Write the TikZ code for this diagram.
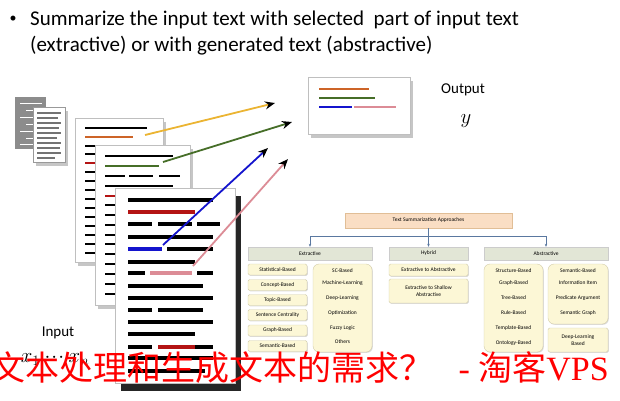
\documentclass[tikz,border=0pt]{standalone}
\usepackage{fontspec}
\setmainfont{Carlito}
\newfontfamily\cjkfont{Noto Sans CJK SC}
\newfontfamily\wmfont{Liberation Serif}
\usetikzlibrary{arrows.meta}
\usetikzlibrary{shadows}
\definecolor{barorange}{RGB}{205,100,40}
\definecolor{barred}{RGB}{180,20,20}
\definecolor{bargreen}{RGB}{70,110,40}
\definecolor{barblue}{RGB}{20,20,205}
\definecolor{barpink}{RGB}{220,140,150}
\definecolor{arryellow}{RGB}{235,180,50}
\definecolor{peach}{RGB}{250,222,196}
\definecolor{peachedge}{RGB}{225,190,150}
\definecolor{headgray}{RGB}{226,230,214}
\definecolor{leafcream}{RGB}{252,247,214}
\definecolor{leafedge}{RGB}{210,204,170}
\definecolor{linkblue}{RGB}{90,120,160}
\newcommand{\linek}[3]{\draw[bar] ( #1 , #3 ) -- ( #2 , #3 );}
\newcommand{\linec}[4]{\draw[bar, #4] ( #1 , #3 ) -- ( #2 , #3 );}
\tikzset{
  bar/.style={line width=2.8pt},
  page/.style={draw=black!25, fill=white, drop shadow={shadow xshift=3pt, shadow yshift=-4pt, opacity=.45}},
  frontpage/.style={draw=black!25, fill=white, drop shadow={shadow xshift=6pt, shadow yshift=-8pt, opacity=1, fill=black!85}},
  pick/.style={line width=1.8pt, -{Stealth[black, length=10pt, width=8pt]}},
  approach/.style={draw=peachedge, fill=peach, minimum width=167pt, minimum height=15pt, inner sep=0pt, font=\fontsize{5.5}{6.5}\selectfont},
  cathead/.style={draw=black!20, fill=headgray, minimum height=13pt, inner sep=0pt, font=\fontsize{5.5}{6.5}\selectfont, drop shadow={shadow xshift=.8pt, shadow yshift=-.8pt, opacity=.3}},
  leaf/.style={draw=leafedge, fill=leafcream, minimum width=59pt, minimum height=11pt, inner sep=0pt, rounded corners=1.5pt, align=center, font=\fontsize{5.5}{6.5}\selectfont, drop shadow={shadow xshift=.8pt, shadow yshift=-.8pt, opacity=.3}},
  group/.style={leaf, rounded corners=6pt},
  item/.style={inner sep=0pt, font=\fontsize{5.5}{6.5}\selectfont},
  treelink/.style={draw=linkblue, line width=.6pt, -{Stealth[length=3pt, width=2.5pt]}}
}
\begin{document}
\begin{tikzpicture}[x=1pt, y=-1pt]
        \useasboundingbox (0,0) rectangle (620,400);
        % heading
        \node (dot) at (13,19) {\fontsize{14}{16}\selectfont •};
        \node[anchor=base west, inner sep=0pt, font=\fontsize{21}{25}\selectfont] (title1) at (30,25) {Summarize the input text with selected \ part of input text};
        \node[anchor=base west, inner sep=0pt, font=\fontsize{21}{25}\selectfont] (title2) at (30,51) {(extractive) or with generated text (abstractive)};
        % small icon
        \draw[draw=black!45, fill=black!45] (15,97) rectangle (45,148);
        \draw[white, line width=1pt] (20,103) -- (42,103);
        \draw[white, line width=1pt] (26,110) -- (42,110);
        \draw[white, line width=1pt] (20,117) -- (42,117);
        \draw[white, line width=1pt] (26,124) -- (42,124);
        \draw[white, line width=1pt] (20,131) -- (42,131);
        \draw[white, line width=1pt] (26,138) -- (42,138);
        \draw[white, line width=1pt] (20,144) -- (42,144);
        \draw[page, draw=black!40] (33,107) rectangle (65,162);
        \draw[black!55, line width=1.1pt] (37,113) -- (61,113);
        \draw[black!55, line width=1.1pt] (37,118) -- (58,118);
        \draw[black!55, line width=1.1pt] (37,123) -- (61,123);
        \draw[black!55, line width=1.1pt] (37,128) -- (59,128);
        \draw[black!55, line width=1.1pt] (37,133) -- (61,133);
        \draw[black!55, line width=1.1pt] (37,138) -- (57,138);
        \draw[black!55, line width=1.1pt] (37,143) -- (61,143);
        \draw[black!55, line width=1.1pt] (37,148) -- (60,148);
        \draw[black!55, line width=1.1pt] (37,153) -- (61,153);
        \draw[black!55, line width=1.1pt] (37,158) -- (55,158);
        % page 1
        \draw[page] (75,118) rectangle (163,262);
        \linek{85}{147}{128}
        \linec{85}{133}{137}{barorange}
        \linek{85}{100}{146} \linek{106}{126}{146} \linek{132}{150}{146}
        \linek{85}{150}{154}
        \linec{85}{120}{163}{barred}
        \linek{85}{140}{172} \linek{85}{140}{181} \linek{85}{140}{190}
        \linek{85}{140}{199} \linek{85}{140}{208} \linek{85}{140}{217}
        \linek{85}{140}{226} \linek{85}{140}{235} \linek{85}{140}{244}
        \linek{85}{140}{253}
        % page 2
        \draw[page] (95,145) rectangle (190,305);
        \linek{105}{173}{156}
        \linec{105}{159}{166}{bargreen}
        \linek{105}{125}{176} \linek{129}{153}{176} \linek{159}{180}{176}
        \linek{105}{173}{186}
        \linec{105}{140}{196}{barred}
        \linek{105}{170}{205} \linek{105}{170}{215} \linek{105}{170}{225}
        \linek{105}{170}{235} \linek{105}{170}{244} \linek{105}{170}{254}
        \linek{105}{170}{264} \linek{105}{170}{274} \linek{105}{170}{284}
        \linek{105}{170}{294}
        % page 3
        \begin{scope}[bar/.style={line width=3.8pt}]
        \draw[frontpage] (115,188) rectangle (235,383);
        \linek{128}{213}{200}
        \linec{128}{195}{212}{barred}
        \linek{128}{152}{224} \linek{158}{192}{224} \linek{197}{220}{224}
        \linek{128}{213}{237}
        \linec{128}{162}{249}{barblue} \linek{167}{213}{249}
        \linek{128}{195}{262}
        \linek{128}{145}{273} \linec{150}{192}{273}{barpink} \linek{197}{213}{273}
        \linek{128}{203}{286}
        \linek{128}{213}{298}
        \linek{128}{152}{310} \linek{158}{203}{310}
        \linek{128}{213}{322}
        \linek{128}{195}{334}
        \linek{128}{152}{347} \linec{158}{195}{347}{barred} \linek{195}{213}{347}
        \linek{128}{213}{358}
        \linek{128}{205}{371}
        \end{scope}
        % output
        \node[page, minimum width=102pt, minimum height=57pt, inner sep=0pt] (outbox) at (359,105.5) {};
        \linec{319}{369}{89}{barorange}
        \linec{319}{375}{98}{bargreen}
        \linec{319}{352}{107}{barblue}
        \linec{354}{396}{107}{barpink}
        \node[font=\fontsize{15}{18}\selectfont] (outlbl) at (463,90) {Output};
        \node[font=\fontsize{20}{24}\selectfont] (outy) at (466,121) {$y$};
        % input
        \node[font=\fontsize{15}{18}\selectfont] (inlbl) at (58,333) {Input};
        \node[font=\fontsize{21}{24}\selectfont] (inx) at (55,359) {$x_1\cdot\!\cdot\!\cdot x_n$};
        % arrows
        \coordinate (ys) at (145,135); \coordinate (ye) at (275,103);
        \coordinate (gs) at (163,162); \coordinate (ge) at (292,122);
        \coordinate (bs) at (163,245); \coordinate (be) at (268,148);
        \coordinate (ps) at (193,266); \coordinate (pe) at (288,159);
        \draw[pick, arryellow] (ys) -- (ye);
        \draw[pick, bargreen] (gs) -- (ge);
        \draw[pick, barblue] (bs) -- (be);
        \draw[pick, barpink] (ps) -- (pe);
        % tree
        \node[approach] (root) at (428.5,220.5) {Text Summarization Approaches};
        \node[cathead, minimum width=124pt] (exthd) at (310,253.5) {Extractive};
        \node[cathead, minimum width=79pt] (hybhd) at (428.5,253.5) {Hybrid};
        \node[cathead, minimum width=124pt] (abshd) at (546,253.5) {Abstractive};
        \coordinate (hub) at (428.5,236);
        \draw[treelink] (root.south) -- (hybhd.north);
        \draw[treelink] (hub) -| (exthd.north);
        \draw[treelink] (hub) -| (abshd.north);
        % extractive
        \node[leaf] (stat) at (277.5,269.5) {Statistical-Based};
        \node[leaf] (concept) at (277.5,285) {Concept-Based};
        \node[leaf] (topic) at (277.5,300) {Topic-Based};
        \node[leaf] (centr) at (277.5,315) {Sentence Centrality};
        \node[leaf] (graph) at (277.5,330.5) {Graph-Based};
        \node[leaf] (sem) at (277.5,346) {Semantic-Based};
        \node[group, minimum height=88pt] (extgrp) at (342.5,308) {};
        \node[item] (sc) at (342.5,271) {SC-Based};
        \node[item] (ml) at (342.5,283) {Machine-Learning};
        \node[item] (dl) at (342.5,298) {Deep-Learning};
        \node[item] (opt) at (342.5,313) {Optimization};
        \node[item] (fuzzy) at (342.5,328) {Fuzzy Logic};
        \node[item] (others) at (342.5,342) {Others};
        % hybrid
        \node[leaf, minimum width=79pt, minimum height=12pt] (e2a) at (428.5,270) {Extractive to Abstractive};
        \node[leaf, minimum width=79pt, minimum height=24pt] (e2s) at (428.5,291) {Extractive to Shallow\\Abstractive};
        % abstractive
        \node[group, minimum height=88pt] (absgrp) at (513.5,308) {};
        \node[item] (struct) at (513.5,271) {Structure-Based};
        \node[item] (agraph) at (513.5,283) {Graph-Based};
        \node[item] (tree) at (513.5,298) {Tree-Based};
        \node[item] (rule) at (513.5,313) {Rule-Based};
        \node[item] (templ) at (513.5,328) {Template-Based};
        \node[item] (onto) at (513.5,343) {Ontology-Based};
        \node[group, minimum width=60pt, minimum height=60pt] (semgrp) at (578,294) {};
        \node[item] (asem) at (578,271) {Semantic-Based};
        \node[item] (info) at (578,283) {Information Item};
        \node[item] (pred) at (578,298) {Predicate Argument};
        \node[item] (sgraph) at (578,313) {Semantic Graph};
        \node[leaf, minimum width=60pt, minimum height=24pt] (adl) at (578,340) {Deep-Learning\\Based};
        % watermark
        \node[anchor=base west, inner sep=0pt, red, font=\fontsize{34}{38}\cjkfont] (wm1) at (-9,380) {文本处理和生成文本的需求？};
        \node[anchor=base east, inner sep=0pt, red, font=\fontsize{34}{38}\wmfont] (wm2) at (609,380) {- {\cjkfont 淘客}VPS};
    \end{tikzpicture}
\end{document}
